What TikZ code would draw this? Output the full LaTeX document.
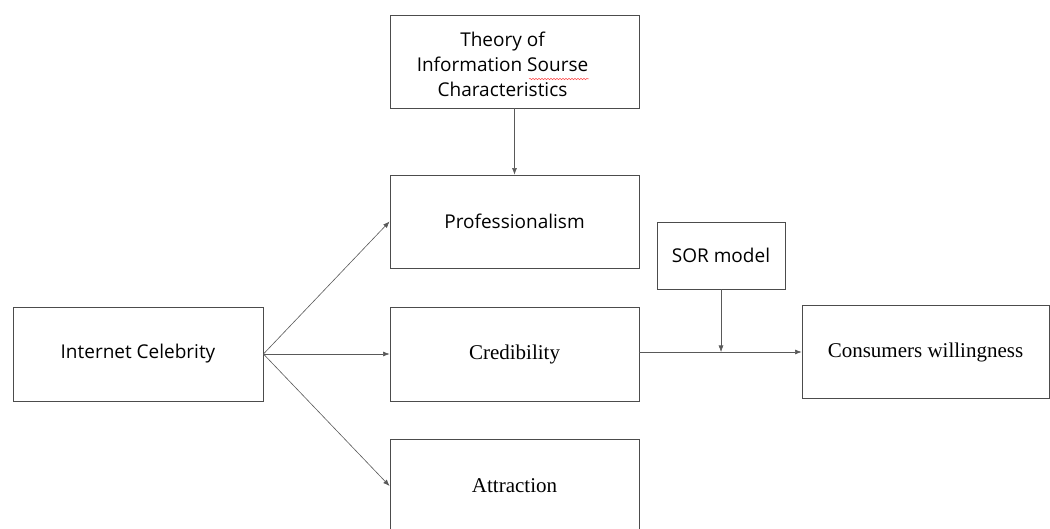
\documentclass[tikz,border=0pt]{standalone}
\usepackage{fontspec}
\usepackage{tikz}
\usetikzlibrary{arrows.meta}
\usetikzlibrary{decorations.pathmorphing}
\usetikzlibrary{positioning}
\newfontfamily\sanslabel{Open Sans}
\newfontfamily\seriflabel{Liberation Serif}

\begin{document}
\begin{tikzpicture} [x=1pt, y=-1pt,
      box/.style={draw=black!70, line width=0.9pt, fill=white, inner sep=0pt,
        minimum width=249pt, minimum height=93pt, align=center},
      sansbox/.style={box, font=\sanslabel\fontsize{19}{25}\selectfont},
      serifbox/.style={box, font=\seriflabel\fontsize{21}{25}\selectfont},
      link/.style={draw=black!65, line width=0.6pt,
        -{Latex[length=6.5pt, width=5pt]}}]
      \useasboundingbox (0,0) rectangle (1050,529);

      \node[sansbox, label={[font=\sanslabel\fontsize{19}{25}\selectfont,
          align=center, xshift=-12pt, yshift=-3pt]center:Theory of\\Information Sourse\\Characteristics}]
        (theory) at (514.5,61.5) {};
      \node[sansbox] (prof) at (514.5,221.5) {Professionalism};
      \node[serifbox, minimum height=94pt] (cred) at (514.5,354) {Credibility};
      \node[serifbox, minimum height=94pt] (attr) at (514.5,486) {Attraction};
      \node[sansbox, minimum width=250pt, minimum height=94pt] (celeb) at (138,354) {Internet Celebrity};
      \node[sansbox, minimum width=128pt, minimum height=67pt] (sor) at (721,255.5) {SOR model};
      \node[serifbox, minimum width=247pt] (cons) at (925.5,352) {Consumers willingness};

      % spell-check squiggle under "Sourse"
      \draw[red!70, line width=0.5pt, decorate,
        decoration={snake, amplitude=0.7pt, segment length=3pt}]
        (529,79) -- (589,79);

      \coordinate (join) at (sor.south |- 0,352);

      \draw[link] (theory) -- (prof);
      \draw[link] (celeb.east) -- (prof.west);
      \draw[link] (celeb.east) -- (cred.west);
      \draw[link] (celeb.east) -- (attr.west);
      \draw[link] (cred.east |- join) -- (cons.west |- join);
      \draw[link] (sor) -- (join);
    \end{tikzpicture}
\end{document}
